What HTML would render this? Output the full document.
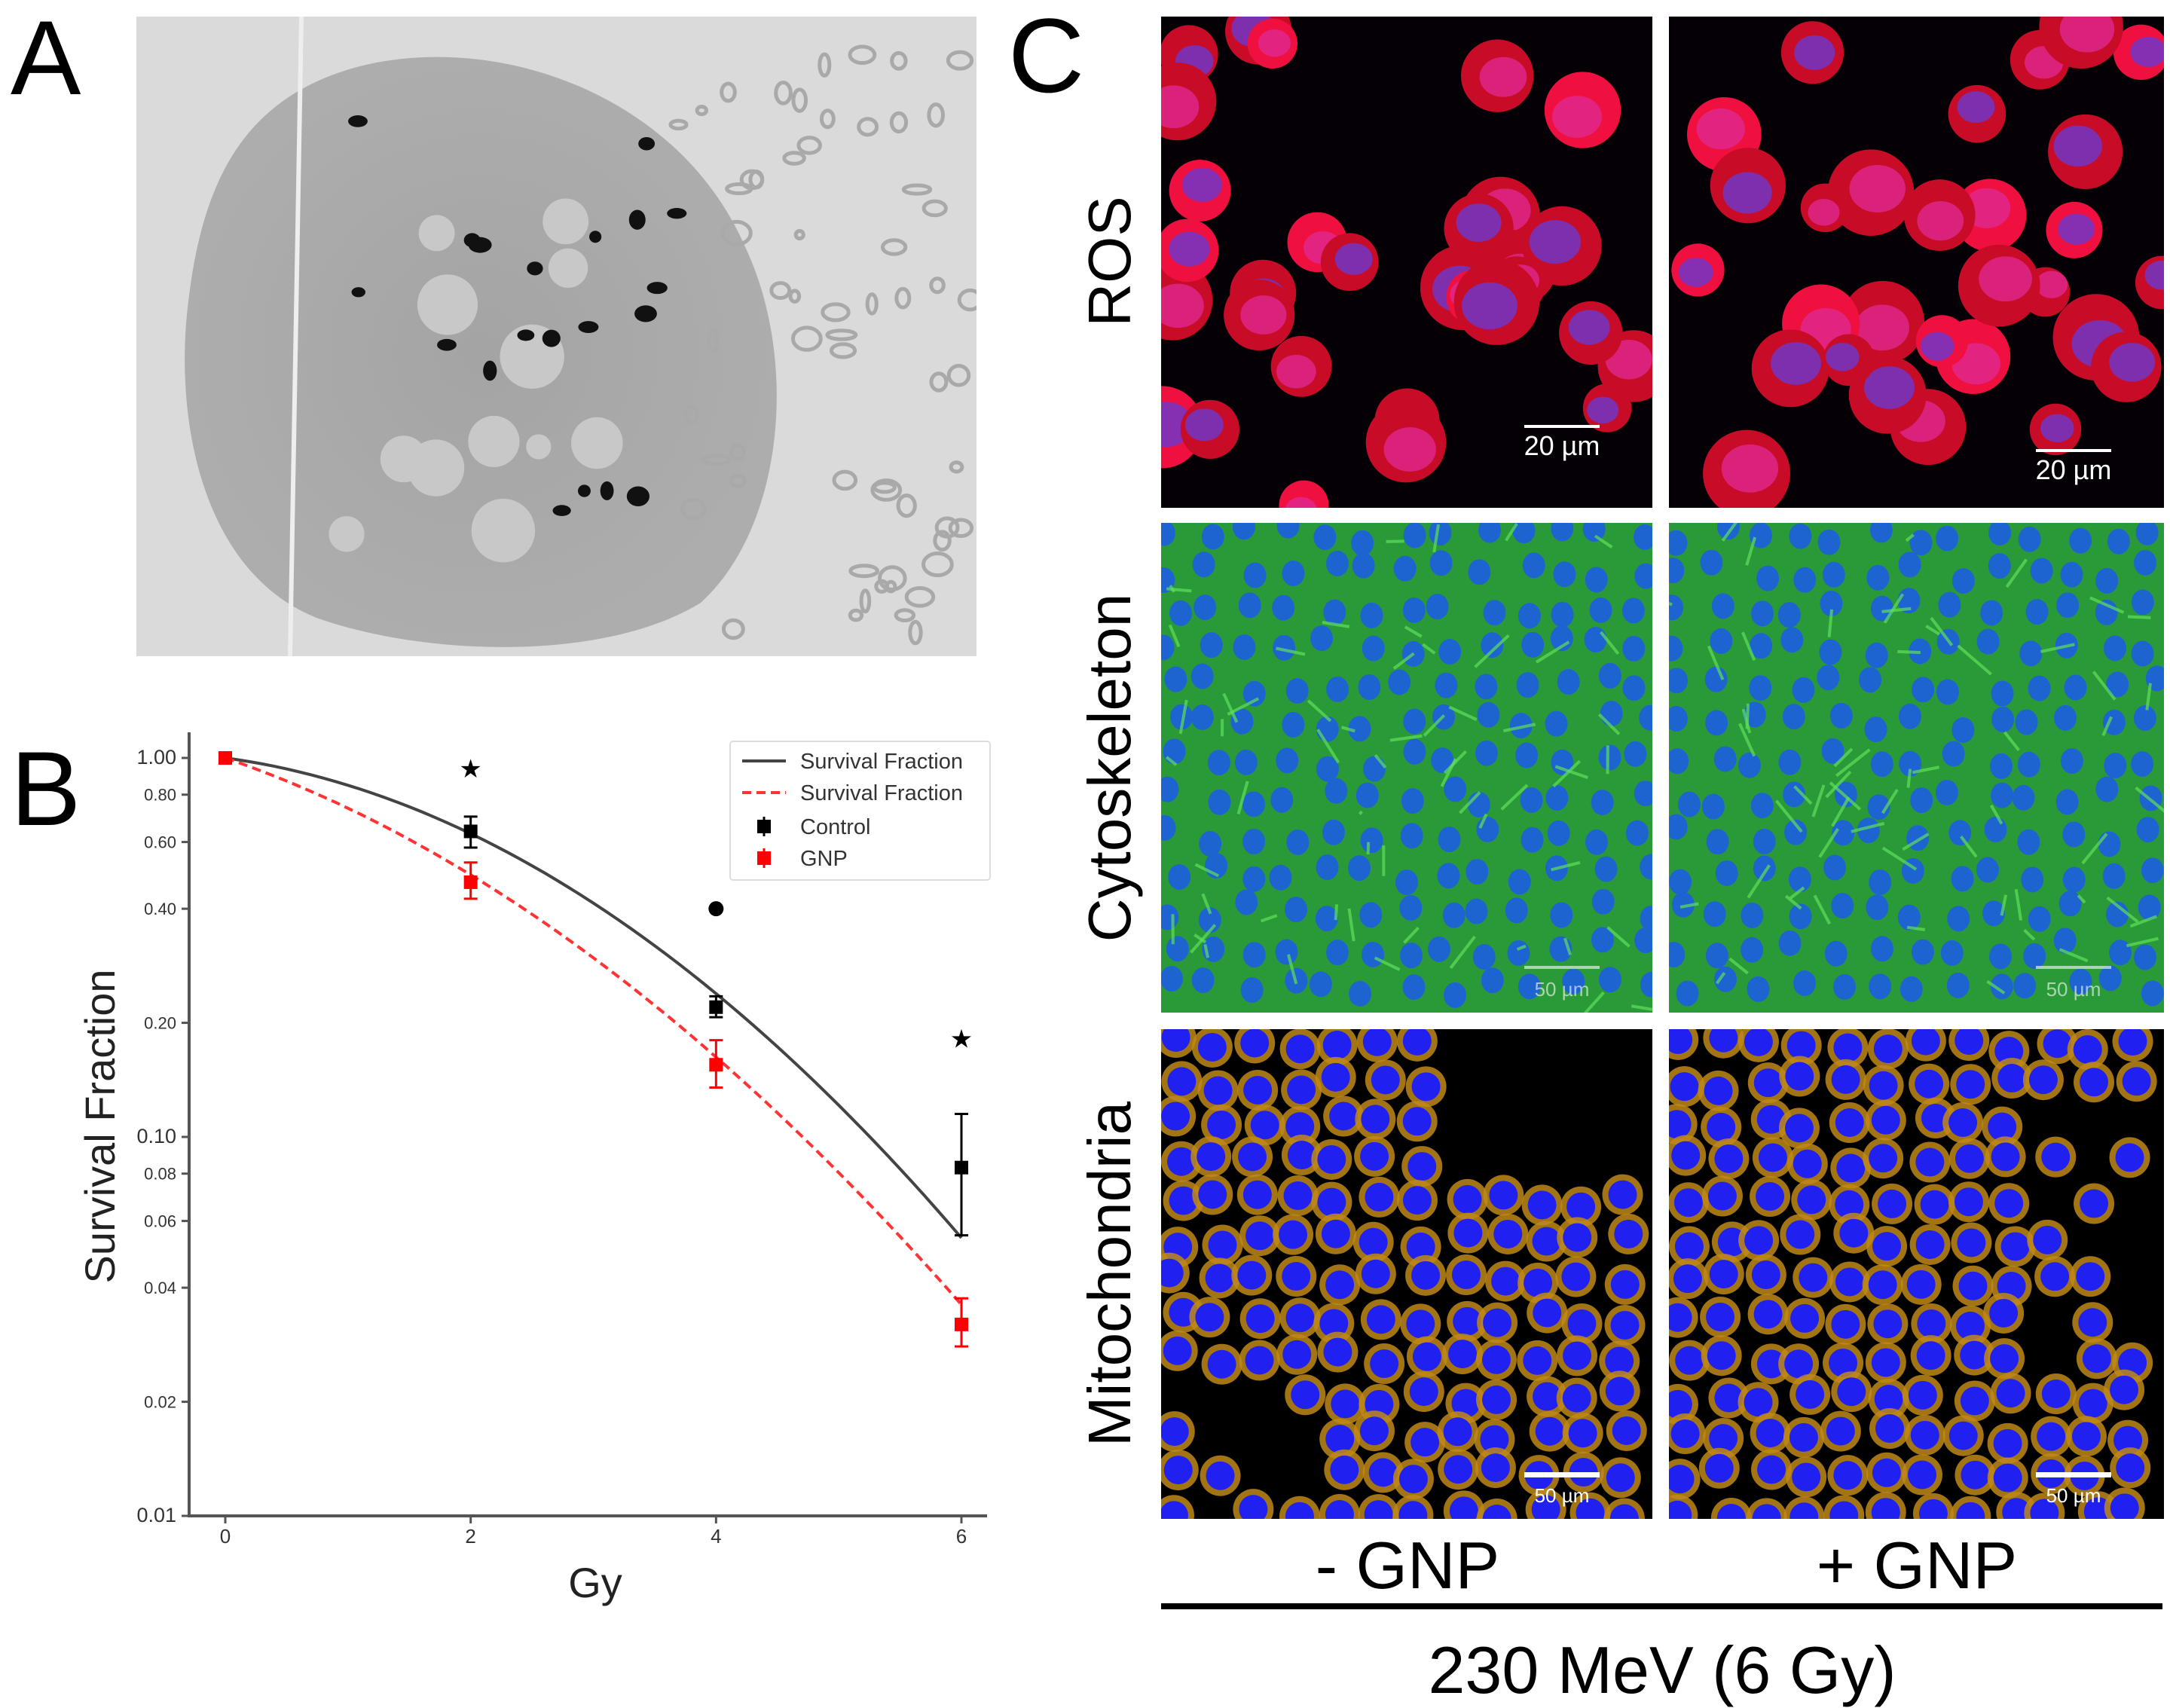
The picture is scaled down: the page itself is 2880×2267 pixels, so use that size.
<!DOCTYPE html>
<html><head><meta charset="utf-8"><style>
html,body{margin:0;padding:0;background:#fff;}
svg{display:block;font-family:"Liberation Sans",Arial,sans-serif;}
</style></head><body>
<svg id="fig" width="2880" height="2267" viewBox="0 0 2880 2267" xmlns="http://www.w3.org/2000/svg">
<defs>
<radialGradient id="gCell" cx="50%" cy="50%" r="50%"><stop offset="0" stop-color="#a4a4a4"/><stop offset="1" stop-color="#adadad"/></radialGradient>
<clipPath id="cA"><rect x="181" y="22" width="1115" height="849"/></clipPath>
</defs>
<g id="panelA" clip-path="url(#cA)">
<rect x="181" y="22" width="1115" height="849" fill="#dadada"/>
<path d="M470,90 C650,40 900,120 990,330 C1060,480 1040,700 930,800 C800,880 560,870 420,820 C270,760 230,560 250,400 C270,230 330,130 470,90 Z" fill="url(#gCell)"/>
</g>
<text x="14" y="125" font-size="140">A</text>
<text x="14" y="1095" font-size="140">B</text>
<text x="1338" y="122" font-size="140">C</text>
<g id="chart"></g>
<g id="panelC"></g>
<text transform="translate(1500,347) rotate(-90)" text-anchor="middle" font-size="80">ROS</text>
<text transform="translate(1500,1019) rotate(-90)" text-anchor="middle" font-size="80">Cytoskeleton</text>
<text transform="translate(1500,1691) rotate(-90)" text-anchor="middle" font-size="80">Mitochondria</text>
<text x="1868" y="2108" text-anchor="middle" font-size="88">- GNP</text>
<text x="2544" y="2108" text-anchor="middle" font-size="88">+ GNP</text>
<rect x="1541" y="2128" width="1329" height="8" fill="#000"/>
<text x="2206" y="2247" text-anchor="middle" font-size="88">230 MeV (6 Gy)</text>
</svg>
<script>
// ---- chart data ----
const doses = [0, 2, 4, 6];
const controlMean = [1.0, 0.64, 0.22, 0.083];
const controlLow = [1.0, 0.58, 0.207, 0.055];
const controlHigh = [1.0, 0.70, 0.235, 0.115];
const gnpMean = [1.0, 0.47, 0.155, 0.032];
const gnpLow = [1.0, 0.425, 0.135, 0.028];
const gnpHigh = [1.0, 0.53, 0.18, 0.0375];
const fitControl = [0.102, 0.064]; // alpha, beta
const fitGnp = [0.256, 0.0496];
const yTicks = [1.0, 0.8, 0.6, 0.4, 0.2, 0.1, 0.08, 0.06, 0.04, 0.02, 0.01];
const yTickLabels = ["1.00","0.80","0.60","0.40","0.20","0.10","0.08","0.06","0.04","0.02","0.01"];
const xTicks = [0, 2, 4, 6];
const sigMarks = [{x:2,y:0.93,t:"star"},{x:4,y:0.40,t:"dot"},{x:6,y:0.18,t:"star"}];

const NS = "http://www.w3.org/2000/svg";
function mk(tag, attrs, parent){const e=document.createElementNS(NS,tag);for(const k in attrs)e.setAttribute(k,attrs[k]);parent.appendChild(e);return e;}
const X = d => 299 + d * (1276 - 299) / 6;
const Y = v => 1006 - Math.log10(v) * 503;
const chart = document.getElementById('chart');

let ax = mk('line',{x1:251,y1:972,x2:251,y2:2012,stroke:'#555','stroke-width':4},chart);


ax = mk('line',{x1:249,y1:2012,x2:1310,y2:2012,stroke:'#555','stroke-width':4},chart);


yTicks.forEach((v,i)=>{
  mk('line',{x1:241,y1:Y(v),x2:251,y2:Y(v),stroke:'#555','stroke-width':3},chart);
  const big = (v===1||v===0.1||v===0.01);
  const t = mk('text',{x:234,y:Y(v)+8,'text-anchor':'end','font-size':big?27:22,fill:'#333'},chart);
  t.textContent = yTickLabels[i];
  
  
});
xTicks.forEach(d=>{
  mk('line',{x1:X(d),y1:2012,x2:X(d),y2:2022,stroke:'#555','stroke-width':3},chart);
  const t = mk('text',{x:X(d),y:2048,'text-anchor':'middle','font-size':26,fill:'#333'},chart);
  t.textContent = String(d);
  
  
});
let tt = mk('text',{x:790,y:2120,'text-anchor':'middle','font-size':56,fill:'#222'},chart);
tt.textContent='Gy';


tt = mk('text',{transform:'translate(152,1495) rotate(-90)','text-anchor':'middle','font-size':56,fill:'#222'},chart);
tt.textContent='Survival Fraction';



function curve(fit){let p='';for(let i=0;i<=60;i++){const d=i/10;const s=Math.exp(-fit[0]*d-fit[1]*d*d);p+=(i?'L':'M')+X(d).toFixed(1)+','+Y(s).toFixed(1);}return p;}
let c = mk('path',{d:curve(fitControl),fill:'none',stroke:'#444','stroke-width':4},chart);


c = mk('path',{d:curve(fitGnp),fill:'none',stroke:'#f33','stroke-width':4,'stroke-dasharray':'12,7'},chart);



function series(mean,lo,hi,col,name){
  doses.forEach((d,i)=>{
    if(hi[i]!==lo[i]){
      mk('line',{x1:X(d),y1:Y(hi[i]),x2:X(d),y2:Y(lo[i]),stroke:col,'stroke-width':3},chart);
      mk('line',{x1:X(d)-9,y1:Y(hi[i]),x2:X(d)+9,y2:Y(hi[i]),stroke:col,'stroke-width':3},chart);
      mk('line',{x1:X(d)-9,y1:Y(lo[i]),x2:X(d)+9,y2:Y(lo[i]),stroke:col,'stroke-width':3},chart);
    }
    const r = mk('rect',{x:X(d)-9,y:Y(mean[i])-9,width:18,height:18,fill:col},chart);
    
    
  });
}
series(controlMean,controlLow,controlHigh,'#000','control');
series(gnpMean,gnpLow,gnpHigh,'#f00','gnp');
sigMarks.forEach(m=>{
  let e;
  if(m.t==='dot'){e=mk('circle',{cx:X(m.x),cy:Y(m.y),r:10,fill:'#000'},chart);}
  else{e=mk('text',{x:X(m.x),y:Y(m.y)+10,'text-anchor':'middle','font-size':34,fill:'#000',"font-family":"DejaVu Sans"},chart);e.textContent='★';}
  
  
});
const lg = mk('g',{},chart);


mk('rect',{x:969,y:984,width:345,height:184,fill:'#fff',stroke:'#ddd','stroke-width':2,rx:4},lg);
const lgItems=[['line','#444','Survival Fraction'],['dash','#f33','Survival Fraction'],['sq','#000','Control'],['sq','#f00','GNP']];
const lgY=[1010,1052,1097,1139];
lgItems.forEach((it,i)=>{
  const y=lgY[i];
  if(it[0]==='line')mk('line',{x1:985,y1:y,x2:1043,y2:y,stroke:it[1],'stroke-width':4},lg);
  else if(it[0]==='dash')mk('line',{x1:985,y1:y,x2:1043,y2:y,stroke:it[1],'stroke-width':4,'stroke-dasharray':'12,7'},lg);
  else{mk('line',{x1:1014,y1:y-13,x2:1014,y2:y+13,stroke:it[1],'stroke-width':3},lg);mk('rect',{x:1005,y:y-9,width:18,height:18,fill:it[1]},lg);}
  const t=mk('text',{x:1062,y:y+10,'font-size':29,fill:'#333'},lg);
  t.textContent=it[2];
  
  
});

// ---- decorative imagery ----
let seed=7;function rnd(){seed=(seed*16807)%2147483647;return seed/2147483647;}
const pa=document.getElementById('panelA');
for(let i=0;i<12;i++){mk('circle',{cx:460+rnd()*360,cy:230+rnd()*520,r:15+rnd()*30,fill:'#c8c8c8'},pa);}
for(let i=0;i<20;i++){mk('ellipse',{cx:440+rnd()*460,cy:160+rnd()*560,rx:8+rnd()*8,ry:6+rnd()*8,fill:'#111'},pa);}
for(let i=0;i<60;i++){mk('ellipse',{cx:900+rnd()*390,cy:60+rnd()*800,rx:5+rnd()*14,ry:5+rnd()*10,fill:'none',stroke:'#a9a9a9','stroke-width':5},pa);}
mk('line',{x1:400,y1:22,x2:385,y2:871,stroke:'#eee','stroke-width':6},pa);

const pc=document.getElementById('panelC');
const cols=[[1541,2193],[2215,2872]];
const rows=[[22,674],[694,1344],[1366,2016]];
rows.forEach((r,ri)=>cols.forEach((cc,ci)=>{
  const w=cc[1]-cc[0],h=r[1]-r[0];
  const g=mk('g',{},pc);
  
  
  const cid='clip'+ri+ci;
  const cp=mk('clipPath',{id:cid},g);mk('rect',{x:cc[0],y:r[0],width:w,height:h},cp);
  const inner=mk('g',{'clip-path':'url(#'+cid+')'},g);
  if(ri===0){
    mk('rect',{x:cc[0],y:r[0],width:w,height:h,fill:'#050005'},inner);
    for(let i=0;i<30;i++){const x=cc[0]+rnd()*w,y=r[0]+rnd()*h,rr=32+rnd()*26;
      mk('circle',{cx:x,cy:y,r:rr,fill:rnd()<0.3?'#f01040':'#c80c28'},inner);
      mk('ellipse',{cx:x+(rnd()-0.5)*20,cy:y+(rnd()-0.5)*20,rx:rr*0.65,ry:rr*0.55,fill:rnd()<0.6?'#6a38d0':'#e02890','opacity':0.8},inner);}
  }else if(ri===1){
    mk('rect',{x:cc[0],y:r[0],width:w,height:h,fill:'#2a9a38'},inner);
    for(let yy=r[0]+15;yy<r[1];yy+=50)for(let xx=cc[0]+15;xx<cc[1];xx+=52){
      mk('ellipse',{cx:xx+(rnd()-0.5)*25,cy:yy+(rnd()-0.5)*25,rx:15,ry:17,fill:'#1e64d0'},inner);}
    for(let i=0;i<60;i++){const x=cc[0]+rnd()*w,y=r[0]+rnd()*h;
      mk('line',{x1:x,y1:y,x2:x+(rnd()-0.5)*90,y2:y+(rnd()-0.5)*90,stroke:'#5fe05a','stroke-width':4,opacity:0.7},inner);}
  }else{
    mk('rect',{x:cc[0],y:r[0],width:w,height:h,fill:'#000'},inner);
    for(let yy=r[0]+20;yy<r[1];yy+=52)for(let xx=cc[0]+20;xx<cc[1];xx+=54){
      const skip = ci===0 ? ((xx-cc[0]>w*0.6 && yy-r[0]<h*0.35) || (xx-cc[0]<w*0.3 && yy-r[0]>h*0.75 && rnd()<0.6)) : (xx-cc[0]>w*0.75 && yy-r[0]>h*0.15 && yy-r[0]<h*0.7 && rnd()<0.7);
      if(skip)continue;
      const x=xx+(rnd()-0.5)*20,y=yy+(rnd()-0.5)*20;
      mk('circle',{cx:x,cy:y,r:27,fill:'#c08818',opacity:0.85},inner);
      mk('circle',{cx:x,cy:y,r:19,fill:'#2020f0'},inner);}
  }
  const bar=[[ '20 µm',1],['50 µm',0.6],['50 µm',1]][ri];
  const bx=cc[1]-170,by=r[1]-(ri===0?(ci===0?110:78):62);
  mk('rect',{x:bx,y:by,width:100,height:ri===2?7:4,fill:'#fff','opacity':bar[1]},inner);
  const tx=mk('text',{x:bx+50,y:by+40,'text-anchor':'middle','font-size':ri===0?36:26,fill:'#fff','opacity':bar[1]},inner);
  tx.textContent=bar[0];
  
  
}));
</script>
</body></html>
